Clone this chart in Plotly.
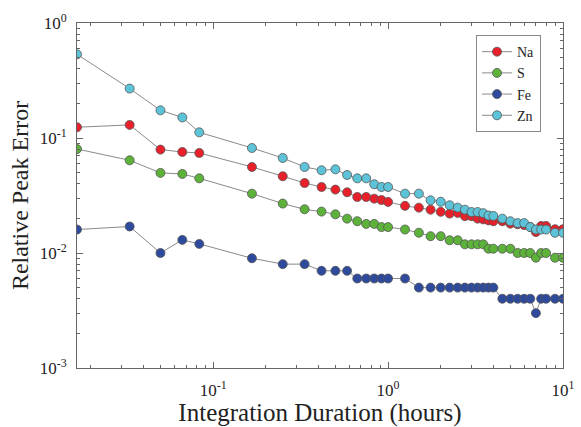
import plotly.graph_objects as go

# Integration duration in minutes (converted to hours below)
minutes = [1, 2, 3, 4, 5, 10, 15, 20, 25, 30, 35, 40, 45, 50, 55, 60,
           75, 90, 105, 120, 135, 150, 165, 180, 195, 210, 225, 240,
           270, 300, 330, 360, 390, 420, 450, 480, 540, 600]
hours = [m / 60 for m in minutes]

na = [0.124, 0.130, 0.0793, 0.0756, 0.0741, 0.056, 0.0465, 0.0406, 0.0375, 0.0356,
      0.0337, 0.0307, 0.0307, 0.0297, 0.0289, 0.0278,
      0.0257, 0.0248, 0.0238, 0.0228, 0.0220, 0.0223, 0.0209, 0.0209, 0.0199, 0.0196,
      0.0192, 0.0189, 0.0189, 0.0180, 0.0178, 0.0175, 0.0168, 0.0152, 0.0172, 0.0172,
      0.0161, 0.0161]
s = [0.0802, 0.064, 0.0497, 0.0487, 0.0446, 0.0328, 0.0269, 0.0240, 0.0229, 0.0217,
     0.0199, 0.0189, 0.0179, 0.0179, 0.0168, 0.0168,
     0.0160, 0.0150, 0.0140, 0.0140, 0.0129, 0.0129, 0.0119, 0.0119, 0.0119, 0.0119,
     0.0109, 0.0109, 0.0109, 0.0109, 0.0100, 0.0100, 0.0100, 0.0091, 0.0100, 0.0100,
     0.0091, 0.0091]
fe = [0.0160, 0.0170, 0.0100, 0.0130, 0.0120, 0.0090, 0.0080, 0.0080, 0.0070, 0.0070,
      0.0070, 0.0060, 0.0060, 0.0060, 0.0060, 0.0060,
      0.0060, 0.0050, 0.0050, 0.0050, 0.0050, 0.0050, 0.0050, 0.0050, 0.0050, 0.0050,
      0.0050, 0.0050, 0.0040, 0.0040, 0.0040, 0.0040, 0.0040, 0.0030, 0.0040, 0.0040,
      0.0040, 0.0040]
zn = [0.534, 0.269, 0.174, 0.151, 0.112, 0.0819, 0.067, 0.056, 0.0524, 0.0534,
      0.0477, 0.0446, 0.0446, 0.0396, 0.0375, 0.0375,
      0.0328, 0.0328, 0.0287, 0.0279, 0.0260, 0.0248, 0.0238, 0.0227, 0.0227, 0.0222,
      0.0212, 0.0210, 0.0199, 0.0189, 0.0182, 0.0182, 0.0168, 0.0160, 0.0160, 0.0160,
      0.0150, 0.0150]

series = [("Na", na, "#e8202a"), ("S", s, "#5db33a"), ("Fe", fe, "#2d4a9c"), ("Zn", zn, "#5cc3d8")]

x_tickvals = [0.1, 1, 10]
x_ticktext = ["10<sup>-1</sup>", "10<sup>0</sup>", "10<sup>1</sup>"]
y_tickvals = [0.001, 0.01, 0.1, 1]
y_ticktext = ["10<sup>-3</sup>", "10<sup>-2</sup>", "10<sup>-1</sup>", "10<sup>0</sup>"]

def minor_vals(lo, hi):
    out = []
    d = 10.0 ** lo
    while d < 10.0 ** hi:
        for k in range(2, 10):
            out.append(k * d)
        d *= 10
    return out

fig = go.Figure()
for name, vals, col in series:
    fig.add_trace(go.Scatter(
        x=hours, y=vals, name=name, mode="lines+markers",
        line=dict(color="#8a8a8a", width=1),
        marker=dict(size=9, color=col, line=dict(color="#555555", width=0.8)),
    ))

font_family = "Liberation Serif, Times New Roman, serif"
axis_common = dict(
    type="log", showgrid=False, zeroline=False, automargin=False,
    showline=True, linecolor="#666666", linewidth=1, mirror="ticks",
    ticks="inside", ticklen=6, tickcolor="#666666", tickwidth=1,
    tickmode="array",
    tickfont=dict(family=font_family, size=17, color="#222222"),
)

fig.update_xaxes(
    **axis_common,
    range=[-1.77815, 1],
    tickvals=x_tickvals, ticktext=x_ticktext, ticklabelstandoff=7,
    minor=dict(tickmode="array", tickvals=minor_vals(-2, 1), ticks="inside",
               ticklen=3, tickcolor="#666666", showgrid=False),
    title=dict(text="Integration Duration (hours)",
               font=dict(family=font_family, size=25, color="#222222"), standoff=7),
)
fig.update_yaxes(
    **axis_common,
    range=[-3, 0],
    tickvals=y_tickvals, ticktext=y_ticktext, ticklabelstandoff=6,
    minor=dict(tickmode="array", tickvals=minor_vals(-3, 0), ticks="inside",
               ticklen=3, tickcolor="#666666", showgrid=False),
    title=dict(text="Relative Peak Error",
               font=dict(family=font_family, size=24, color="#222222"), standoff=4),
)

fig.update_layout(
    width=581, height=427,
    margin=dict(l=77, r=18, t=23, b=59),
    paper_bgcolor="white", plot_bgcolor="white",
    showlegend=True,
    legend=dict(
        x=0.821, y=0.965, xanchor="left", yanchor="top",
        bgcolor="white", bordercolor="#888888", borderwidth=1,
        font=dict(family=font_family, size=14, color="#222222"),
        tracegroupgap=0, itemwidth=30,
    ),
)

fig.write_html("out.html", config={"displayModeBar": False},
               post_script="document.body.style.margin='0';document.body.style.overflow='hidden';")
